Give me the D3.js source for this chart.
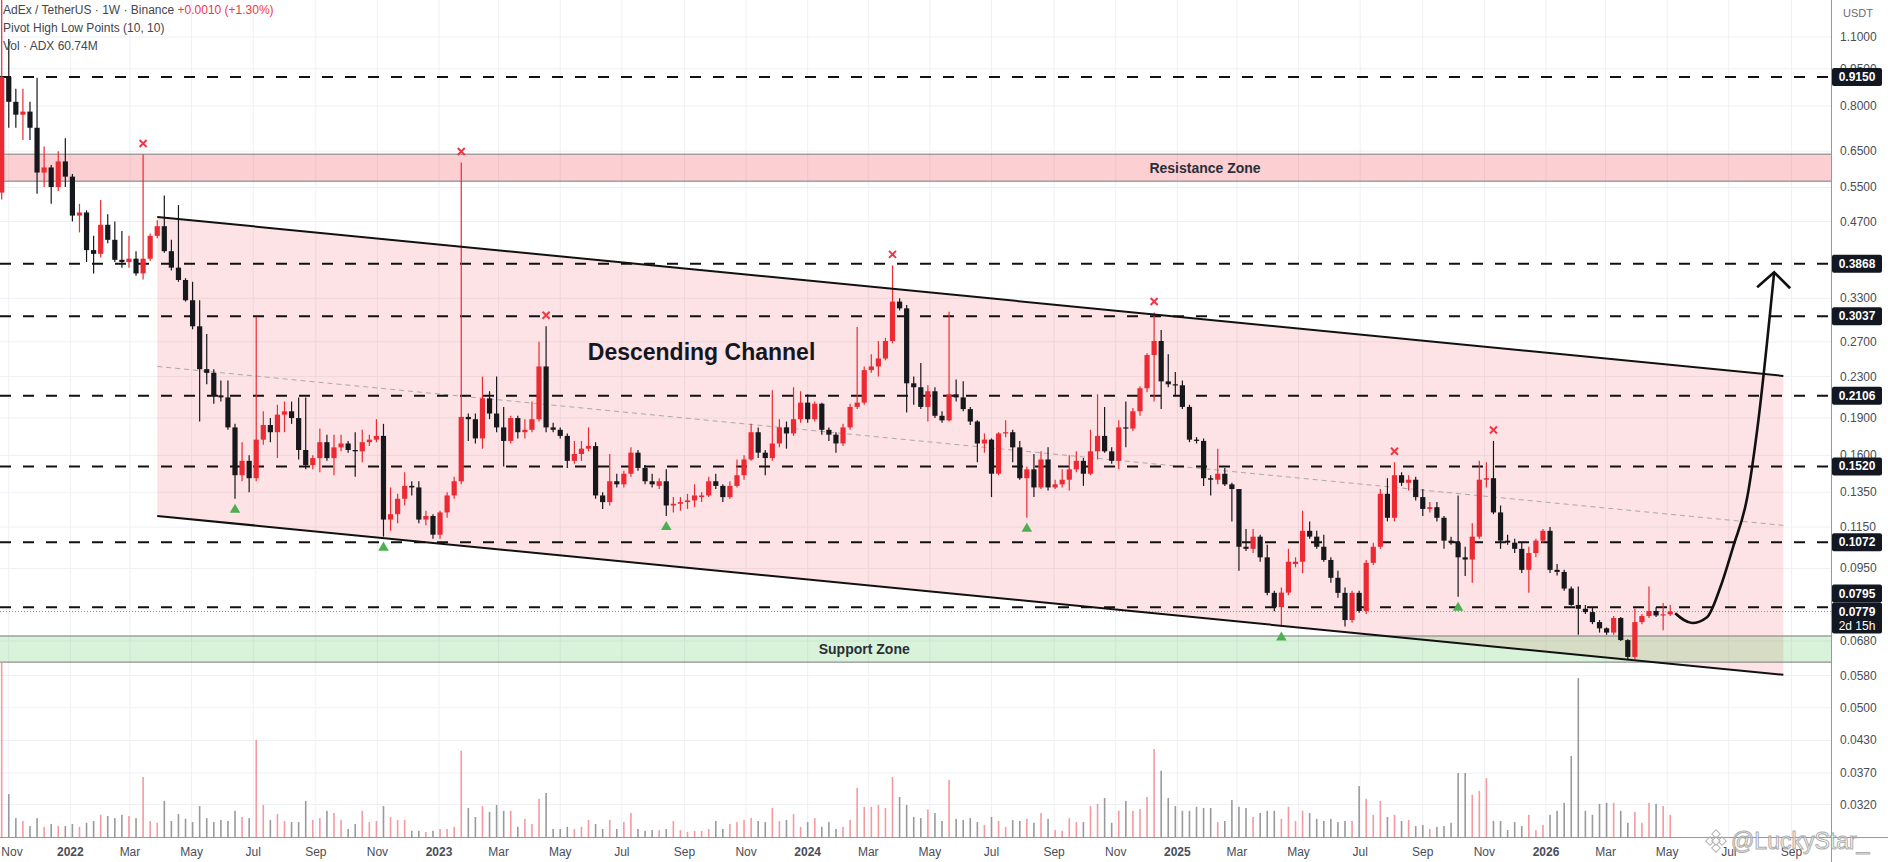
<!DOCTYPE html>
<html>
<head>
<meta charset="utf-8">
<script src="https://cdnjs.cloudflare.com/ajax/libs/d3/7.8.5/d3.min.js"></script>
<style>
  html, body { margin: 0; padding: 0; background: #fff; overflow: hidden; }
  svg { display: block; font-family: "Liberation Sans", Arial, sans-serif; }
</style>
</head>
<body>
<svg id="chart"></svg>
<script>
// AdEx / TetherUS weekly candles, first bar = week of 2021-10-25
var firstWeek = Date.UTC(2021, 9, 25);

var opens = [
  .537,.915,.816,.769,.780,.724,.589,.603,.551,.620,
  .578,.483,.49,.412,.405,.463,.432,.394,.39,.396,
  .37,.396,.44,.46,.41,.38,.359,.327,.290,.238,
  .234,.211,.209,.182,.146,.156,.144,.172,.184,.178,
  .193,.196,.19,.164,.153,.158,.170,.158,.166,.169,
  .164,.163,.170,.172,.175,.119,.122,.131,.139,.138,
  .119,.121,.111,.123,.133,.142,.191,.189,.173,.208,
  .194,.182,.171,.19,.178,.18,.189,.241,.182,.18,
  .175,.156,.161,.165,.167,.133,.129,.142,.140,.147,
  .162,.151,.142,.139,.142,.127,.128,.129,.130,.132,
  .133,.142,.139,.132,.139,.146,.157,.178,.162,.158,
  .169,.182,.177,.189,.204,.189,.203,.180,.176,.169,
  .182,.200,.204,.237,.241,.250,.271,.325,.315,.223,
  .219,.200,.215,.192,.188,.212,.209,.198,.187,.169,
  .172,.147,.177,.178,.166,.144,.150,.138,.157,.138,
  .140,.143,.150,.156,.147,.163,.175,.163,.156,.182,
  .181,.196,.218,.254,.271,.225,.222,.221,.200,.172,
  .171,.144,.143,.147,.140,.137,.105,.104,.110,.100,
  .0849,.0795,.085,.097,.098,.113,.110,.105,.0988,.091,
  .0849,.0749,.0849,.0781,.0975,.105,.134,.120,.146,.141,
  .143,.132,.125,.126,.120,.108,.107,.100,.099,.110,
  .143,.144,.123,.108,.107,.104,.0944,.102,.108,.113,
  .0944,.0935,.0866,.0803,.0789,.0777,.0742,.0721,.0707,.0756,
  .0683,.0632,.0742,.0763,.0781,.0765,.0769
];
var highs = [
  1.35,1.09,.867,.867,.816,.912,.664,.61,.65,.69,
  .585,.51,.495,.44,.519,.486,.47,.45,.44,.41,
  .64,.445,.473,.53,.432,.507,.362,.356,.327,.28,
  .238,.226,.226,.185,.170,.160,.303,.196,.19,.202,
  .205,.205,.209,.209,.16,.181,.176,.176,.176,.171,
  .178,.180,.176,.189,.185,.138,.134,.148,.142,.142,
  .124,.122,.124,.135,.145,.617,.194,.194,.23,.215,
  .23,.20,.192,.192,.189,.205,.27,.29,.186,.182,
  .177,.171,.171,.182,.170,.135,.161,.147,.149,.166,
  .164,.153,.147,.144,.150,.132,.132,.134,.140,.135,
  .145,.147,.140,.142,.157,.160,.185,.182,.164,.216,
  .189,.187,.219,.215,.212,.205,.204,.182,.178,.185,
  .203,.289,.241,.255,.271,.275,.384,.330,.320,.230,
  .245,.221,.219,.196,.310,.227,.225,.200,.188,.177,
  .173,.178,.188,.180,.171,.152,.161,.163,.166,.143,
  .150,.160,.163,.158,.180,.212,.200,.166,.188,.205,
  .199,.220,.256,.309,.285,.255,.235,.226,.202,.174,
  .173,.146,.165,.151,.141,.137,.114,.114,.111,.106,
  .0857,.087,.104,.100,.124,.118,.113,.111,.100,.094,
  .087,.0857,.0857,.0988,.107,.137,.144,.155,.148,.146,
  .145,.137,.129,.129,.121,.110,.133,.105,.117,.156,
  .155,.171,.127,.111,.109,.107,.105,.109,.114,.115,
  .097,.0944,.0874,.0874,.0803,.0796,.0749,.0724,.0763,.0760,
  .0686,.079,.0770,.0874,.0795,.081,.0803
];
var lows = [
  .52,.724,.724,.684,.684,.534,.551,.510,.541,.551,
  .47,.447,.39,.37,.398,.425,.39,.38,.38,.366,
  .36,.392,.435,.407,.375,.356,.325,.286,.187,.222,
  .203,.205,.180,.131,.142,.135,.142,.168,.17,.158,
  .178,.185,.157,.15,.15,.148,.156,.146,.163,.162,
  .145,.155,.167,.170,.110,.113,.117,.127,.133,.117,
  .116,.109,.109,.120,.131,.140,.171,.169,.165,.189,
  .178,.152,.169,.173,.173,.178,.187,.178,.178,.173,
  .151,.154,.156,.163,.131,.125,.127,.138,.138,.145,
  .149,.140,.138,.137,.121,.123,.124,.125,.126,.129,
  .132,.137,.129,.131,.138,.143,.156,.158,.146,.156,
  .166,.165,.175,.186,.186,.187,.176,.171,.162,.167,
  .180,.198,.202,.234,.230,.248,.268,.312,.195,.202,
  .198,.187,.190,.186,.187,.205,.196,.184,.155,.162,
  .132,.146,.174,.155,.143,.120,.132,.137,.136,.137,
  .138,.136,.148,.139,.146,.157,.162,.154,.150,.166,
  .179,.192,.214,.205,.198,.219,.210,.198,.170,.169,
  .139,.133,.140,.139,.118,.094,.103,.102,.098,.084,
  .078,.0727,.084,.0955,.093,.109,.104,.098,.089,.083,
  .0727,.0740,.0775,.0770,.0965,.104,.118,.118,.139,.136,
  .130,.121,.123,.118,.104,.106,.0834,.0918,.0889,.109,
  .138,.122,.104,.106,.102,.093,.0849,.100,.107,.093,
  .092,.0857,.080,.0700,.0770,.0735,.0707,.0700,.0700,.0680,
  .0625,.0625,.0735,.0756,.076,.0715,.0763
];
var closes = [
  .915,.816,.769,.780,.724,.589,.603,.551,.620,.578,
  .483,.49,.412,.405,.463,.432,.394,.39,.396,.37,
  .396,.44,.46,.41,.38,.359,.327,.290,.238,.234,
  .211,.209,.182,.146,.156,.144,.172,.184,.178,.193,
  .196,.19,.164,.153,.158,.170,.158,.166,.169,.164,
  .163,.170,.172,.175,.119,.122,.131,.139,.138,.119,
  .121,.111,.123,.133,.142,.191,.189,.173,.208,.194,
  .182,.171,.19,.178,.18,.189,.241,.182,.180,.175,
  .156,.161,.165,.167,.133,.129,.142,.140,.147,.162,
  .151,.142,.140,.142,.127,.128,.129,.130,.133,.133,
  .142,.139,.132,.139,.146,.157,.178,.162,.158,.169,
  .182,.177,.189,.204,.189,.203,.180,.176,.169,.182,
  .200,.204,.237,.241,.250,.271,.325,.315,.223,.219,
  .200,.215,.192,.188,.212,.209,.198,.187,.169,.172,
  .147,.177,.178,.166,.144,.150,.138,.157,.138,.140,
  .143,.150,.156,.147,.163,.175,.163,.156,.182,.181,
  .196,.218,.254,.271,.225,.222,.221,.200,.172,.171,
  .144,.143,.147,.140,.137,.105,.104,.110,.100,.0849,
  .0795,.085,.098,.098,.113,.110,.105,.0988,.091,.0849,
  .0749,.0849,.0781,.0975,.105,.134,.120,.146,.141,.143,
  .132,.125,.126,.120,.108,.107,.100,.099,.110,.143,
  .144,.123,.108,.107,.104,.0944,.102,.108,.113,.0944,
  .0935,.0866,.0803,.0789,.0777,.0742,.0721,.0707,.0756,.0683,
  .0632,.0742,.0763,.0781,.0765,.0769,.0779
];
// weekly volume, millions of ADX
var volumes = [
  480,118,52,44,30,52,28,36,30,30,
  36,28,39,44,61,58,52,61,58,52,
  165,44,39,99,44,63,50,41,85,52,
  41,47,44,72,55,52,267,88,47,63,
  44,41,41,99,47,52,72,66,47,22,
  36,72,41,44,85,55,47,47,17,17,
  14,17,22,22,28,237,80,55,85,69,
  88,72,72,28,50,36,105,121,22,22,
  28,22,28,47,36,22,47,22,41,66,
  22,17,19,19,22,44,19,14,17,17,
  22,44,22,36,41,47,52,44,41,80,
  44,47,63,28,41,52,28,41,22,28,
  47,135,83,83,88,80,165,110,88,55,
  52,76,66,44,157,50,47,52,41,33,
  55,44,28,47,44,50,39,66,50,19,
  17,52,41,41,85,91,107,39,72,99,
  72,77,110,242,182,107,85,72,72,83,
  80,80,41,44,102,83,80,55,66,72,
  72,50,83,44,72,66,50,44,50,41,
  44,44,140,105,61,99,55,61,44,47,
  30,33,22,28,30,39,176,176,116,127,
  162,44,44,19,41,30,61,19,33,61,
  72,94,223,437,72,61,91,94,94,72,
  39,69,39,94,91,85,61
];

// bars flagged by "Pivot High Low Points (10, 10)"
var pivotHighBars = [20, 65, 77, 126, 163, 197, 211];
var pivotLowBars = [33, 54, 94, 145, 181, 206];

var priceTicks = [1.1, 0.95, 0.8, 0.65, 0.55, 0.47, 0.33, 0.27, 0.23, 0.19, 0.16,
                  0.135, 0.115, 0.095, 0.068, 0.058, 0.05, 0.043, 0.037, 0.032];
var levels = [0.9150, 0.3868, 0.3037, 0.2106, 0.1520, 0.1072, 0.0795];
var lastPrice = 0.0779;

// drawings: week offsets from first bar and prices
var resistanceZone = [0.641, 0.566];
var supportZone = [0.0696, 0.0617];
var channelWeeks = [22, 252];
var channelUpper = [0.480, 0.2307];
var channelLower = [0.121, 0.0582];
var arrowWeeks = [236.7, 239.1, 241.2, 243.1, 244.9, 246.9, 248.3, 250.7];
var arrowPrices = [0.0773, 0.0739, 0.0759, 0.0872, 0.105, 0.132, 0.180, 0.372];

var W = 1888, H = 862;
var plotRight = 1831, plotBottom = 837;
var upColor = "#eb2a33", downColor = "#17181c";

function weekDate(w) { return new Date(firstWeek + w * 7 * 864e5); }

var x = d3.scaleUtc().domain([weekDate(0), weekDate(250)]).range([1.7, 1769.2]);
var y = d3.scaleLog().domain([1.1, 0.032]).range([37, 804.6]);
var vy = d3.scaleLinear().domain([0, 440]).range([plotBottom, 677]);

var bars = closes.map(function(c, i) {
    return {i: i, date: weekDate(i), o: opens[i], h: highs[i], l: lows[i], c: c, v: volumes[i], up: c >= opens[i]};
});

var svg = d3.select("#chart").attr("width", W).attr("height", H);
svg.append("rect").attr("width", W).attr("height", H).attr("fill", "#fff");

svg.append("defs").append("clipPath").attr("id", "plotClip")
    .append("rect").attr("width", plotRight).attr("height", plotBottom);

var plot = svg.append("g").attr("clip-path", "url(#plotClip)");

// grid
var monthTicks = d3.utcMonth.every(2).range(new Date(Date.UTC(2021, 10, 1)), new Date(Date.UTC(2026, 9, 2)));
plot.selectAll("line.vgrid").data(monthTicks).enter().append("line")
    .attr("x1", function(d) { return x(d); }).attr("x2", function(d) { return x(d); })
    .attr("y1", 0).attr("y2", plotBottom)
    .attr("stroke", "#eef0f4").attr("stroke-width", 1);
plot.selectAll("line.hgrid").data(priceTicks).enter().append("line")
    .attr("x1", 0).attr("x2", plotRight)
    .attr("y1", function(d) { return y(d); }).attr("y2", function(d) { return y(d); })
    .attr("stroke", "#eef0f4").attr("stroke-width", 1);

// channel fill
var cx0 = x(weekDate(channelWeeks[0])), cx1 = x(weekDate(channelWeeks[1]));
plot.append("polygon")
    .attr("points", [[cx0, y(channelUpper[0])], [cx1, y(channelUpper[1])], [cx1, y(channelLower[1])], [cx0, y(channelLower[0])]].join(" "))
    .attr("fill", "rgba(242,54,69,0.14)");

// zones
plot.append("rect")
    .attr("x", -2).attr("width", plotRight + 4)
    .attr("y", y(resistanceZone[0])).attr("height", y(resistanceZone[1]) - y(resistanceZone[0]))
    .attr("fill", "rgba(242,54,69,0.24)").attr("stroke", "#8d8d8d").attr("stroke-width", 1.2);
plot.append("rect")
    .attr("x", -2).attr("width", plotRight + 4)
    .attr("y", y(supportZone[0])).attr("height", y(supportZone[1]) - y(supportZone[0]))
    .attr("fill", "rgba(76,200,80,0.22)").attr("stroke", "#8d8d8d").attr("stroke-width", 1.2);

// channel middle line
plot.append("line")
    .attr("x1", cx0).attr("x2", cx1)
    .attr("y1", (y(channelUpper[0]) + y(channelLower[0])) / 2)
    .attr("y2", (y(channelUpper[1]) + y(channelLower[1])) / 2)
    .attr("stroke", "#a9a9a9").attr("stroke-width", 1).attr("stroke-dasharray", "5,4");

// horizontal levels
plot.selectAll("line.level").data(levels).enter().append("line")
    .attr("x1", 0).attr("x2", plotRight)
    .attr("y1", function(d) { return y(d); }).attr("y2", function(d) { return y(d); })
    .attr("stroke", "#111").attr("stroke-width", 2).attr("stroke-dasharray", "11,12");

// last price line
plot.append("line")
    .attr("x1", 0).attr("x2", plotRight).attr("y1", y(lastPrice)).attr("y2", y(lastPrice))
    .attr("stroke", "#8a8d96").attr("stroke-width", 1).attr("stroke-dasharray", "1,2");

// volume
plot.selectAll("rect.vol").data(bars).enter().append("rect")
    .attr("x", function(d) { return x(d.date) - 0.8; })
    .attr("width", 1.6)
    .attr("y", function(d) { return vy(d.v); })
    .attr("height", function(d) { return plotBottom - vy(d.v); })
    .attr("fill", function(d) { return d.up ? "#f49aa0" : "#9a9a9a"; });

// candles
var candle = plot.selectAll("g.candle").data(bars).enter().append("g");
candle.append("line")
    .attr("x1", function(d) { return x(d.date); }).attr("x2", function(d) { return x(d.date); })
    .attr("y1", function(d) { return y(d.h); }).attr("y2", function(d) { return y(d.l); })
    .attr("stroke", function(d) { return d.up ? upColor : downColor; }).attr("stroke-width", 1.2);
candle.append("rect")
    .attr("x", function(d) { return x(d.date) - 2.6; })
    .attr("width", 5.2)
    .attr("y", function(d) { return y(Math.max(d.o, d.c)); })
    .attr("height", function(d) { return Math.max(1.2, Math.abs(y(d.o) - y(d.c))); })
    .attr("fill", function(d) { return d.up ? upColor : downColor; });

// channel borders
plot.append("line")
    .attr("x1", cx0).attr("y1", y(channelUpper[0])).attr("x2", cx1).attr("y2", y(channelUpper[1]))
    .attr("stroke", "#111").attr("stroke-width", 2);
plot.append("line")
    .attr("x1", cx0).attr("y1", y(channelLower[0])).attr("x2", cx1).attr("y2", y(channelLower[1]))
    .attr("stroke", "#111").attr("stroke-width", 2);

// pivot markers
plot.selectAll("path.ph").data(pivotHighBars).enter().append("path")
    .attr("transform", function(i) { return "translate(" + x(bars[i].date) + "," + (y(bars[i].h) - 11) + ")"; })
    .attr("d", "M-3.5,-3.5L3.5,3.5M3.5,-3.5L-3.5,3.5")
    .attr("stroke", "#f23645").attr("stroke-width", 2);
plot.selectAll("path.pl").data(pivotLowBars).enter().append("path")
    .attr("transform", function(i) { return "translate(" + x(bars[i].date) + "," + (y(bars[i].l) + 11) + ")"; })
    .attr("d", d3.symbol().type(d3.symbolTriangle).size(48))
    .attr("fill", "#4caf50");

// projected move arrow
var arrowPts = arrowWeeks.map(function(w, k) { return [x(weekDate(w)), y(arrowPrices[k])]; });
plot.append("path")
    .attr("d", d3.line().curve(d3.curveMonotoneX)(arrowPts))
    .attr("fill", "none").attr("stroke", "#111").attr("stroke-width", 2.6);
var tip = arrowPts[arrowPts.length - 1];
plot.append("path")
    .attr("d", "M" + (tip[0] - 17) + "," + (tip[1] + 15) + "L" + tip[0] + "," + tip[1] + "L" + (tip[0] + 16) + "," + (tip[1] + 16))
    .attr("fill", "none").attr("stroke", "#111").attr("stroke-width", 2.6);

// drawing labels
plot.append("text")
    .attr("x", x(weekDate(82.9))).attr("y", y(0.248))
    .attr("font-size", 23).attr("font-weight", "bold").attr("fill", "#131722")
    .text("Descending Channel");
plot.append("text")
    .attr("x", x(weekDate(170.2))).attr("y", (y(resistanceZone[0]) + y(resistanceZone[1])) / 2 + 5)
    .attr("text-anchor", "middle").attr("font-size", 14).attr("font-weight", "bold").attr("fill", "#2a2e39")
    .text("Resistance Zone");
plot.append("text")
    .attr("x", x(weekDate(122))).attr("y", (y(supportZone[0]) + y(supportZone[1])) / 2 + 5)
    .attr("text-anchor", "middle").attr("font-size", 14).attr("font-weight", "bold").attr("fill", "#2a2e39")
    .text("Support Zone");

// legend
var legend = svg.append("g").attr("font-size", 12).attr("fill", "#434651");
var l1 = legend.append("text").attr("x", 3).attr("y", 14);
l1.append("tspan").text("AdEx / TetherUS · 1W · Binance ");
l1.append("tspan").attr("fill", "#f23645").text(" +0.0010 (+1.30%)");
legend.append("text").attr("x", 3).attr("y", 32).text("Pivot High Low Points (10, 10)");
legend.append("text").attr("x", 3).attr("y", 50).text("Vol · ADX  60.74M");

// right price axis
var axisG = svg.append("g");
axisG.append("rect").attr("x", plotRight).attr("width", W - plotRight).attr("height", H).attr("fill", "#fff");
axisG.append("line").attr("x1", plotRight + 0.5).attr("x2", plotRight + 0.5).attr("y1", 0).attr("y2", H)
    .attr("stroke", "#9598a1").attr("stroke-width", 1);
axisG.append("text").attr("x", 1858).attr("y", 17).attr("text-anchor", "middle")
    .attr("font-size", 11).attr("fill", "#6a6d78").text("USDT");
axisG.selectAll("text.tick").data(priceTicks).enter().append("text")
    .attr("x", 1840).attr("y", function(d) { return y(d) + 4; })
    .attr("font-size", 12).attr("fill", "#4a4d57")
    .text(d3.format(".4f"));

var lastY = y(lastPrice);
var lastBox = [lastY - 9, lastY + 22];
levels.forEach(function(lv) {
    var cy = y(lv);
    if (cy + 9 > lastBox[0] && cy - 9 < lastBox[1]) cy = lastBox[0] - 9;
    axisG.append("rect").attr("x", plotRight + 1).attr("y", cy - 9).attr("width", 50).attr("height", 18)
        .attr("rx", 2).attr("fill", "#131722");
    axisG.append("text").attr("x", plotRight + 26).attr("y", cy + 4).attr("text-anchor", "middle")
        .attr("font-size", 12).attr("font-weight", "bold").attr("fill", "#fff").text(d3.format(".4f")(lv));
});
axisG.append("rect").attr("x", plotRight + 1).attr("y", lastBox[0]).attr("width", 50).attr("height", lastBox[1] - lastBox[0])
    .attr("rx", 2).attr("fill", "#131722");
axisG.append("text").attr("x", plotRight + 26).attr("y", lastY + 4).attr("text-anchor", "middle")
    .attr("font-size", 12).attr("font-weight", "bold").attr("fill", "#fff").text(d3.format(".4f")(lastPrice));
axisG.append("text").attr("x", plotRight + 26).attr("y", lastY + 18).attr("text-anchor", "middle")
    .attr("font-size", 12).attr("fill", "#fff").text("2d 15h");

// time axis
svg.append("line").attr("x1", 0).attr("x2", W).attr("y1", plotBottom + 0.5).attr("y2", plotBottom + 0.5)
    .attr("stroke", "#9598a1").attr("stroke-width", 1);
svg.selectAll("text.time").data(monthTicks).enter().append("text")
    .attr("x", function(d) { return Math.max(12, x(d)); }).attr("y", 856)
    .attr("text-anchor", "middle").attr("font-size", 12)
    .attr("font-weight", function(d) { return d.getUTCMonth() === 0 ? "bold" : "normal"; })
    .attr("fill", "#4a4d57")
    .text(function(d) { return d.getUTCMonth() === 0 ? d3.utcFormat("%Y")(d) : d3.utcFormat("%b")(d); });

// watermark
var wm = svg.append("g").attr("opacity", 0.85);
[[0, -7], [-6, 0], [6, 0], [0, 7], [0, 0]].forEach(function(p) {
    wm.append("rect").attr("x", 1716 + p[0] - 3).attr("y", 841 + p[1] - 3).attr("width", 6).attr("height", 6)
        .attr("transform", "rotate(45," + (1716 + p[0]) + "," + (841 + p[1]) + ")")
        .attr("fill", "rgba(255,255,255,0.7)").attr("stroke", "#a5a5a5").attr("stroke-width", 1);
});
wm.append("text").attr("x", 1731).attr("y", 849).attr("font-size", 23)
    .attr("fill", "rgba(255,255,255,0.75)").attr("stroke", "#a0a0a0").attr("stroke-width", 1)
    .text("@LuckyStar_");
</script>
</body>
</html>
